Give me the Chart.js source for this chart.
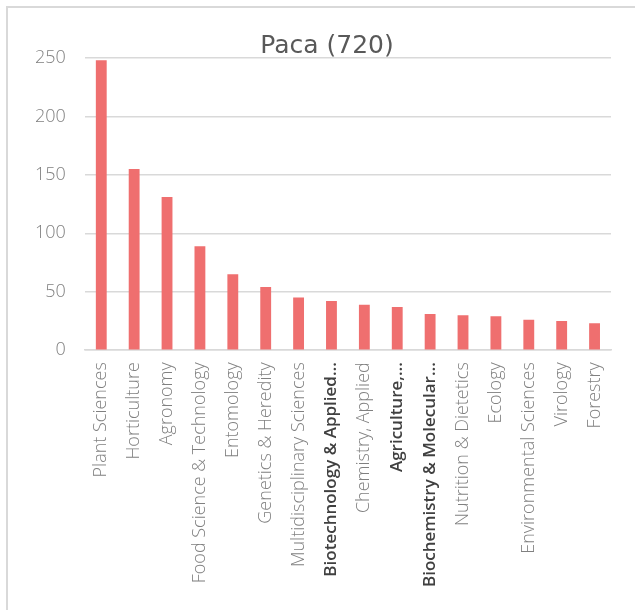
<!DOCTYPE html>
<html>
<head>
<meta charset="utf-8">
<script src="https://cdn.jsdelivr.net/npm/chart.js@4/dist/chart.umd.min.js"></script>
<style>
    html, body { margin: 0; padding: 0; background: #ffffff; overflow: hidden; }
    #marco {
        position: absolute; left: 6px; top: 6px;
        width: 660px; height: 640px;
        border: 2px solid #d9d9d9; background: #ffffff;
    }
    #contenedor { position: absolute; left: 0; top: 0; width: 638px; height: 602px; }
</style>
</head>
<body>
<div id="marco">
    <div id="contenedor"><canvas id="grafica"></canvas></div>
</div>
<script>
// Datos de la gráfica: categorías y cantidad de registros por categoría.
const titulo = 'Paca (720)';
const categorias = ['Plant Sciences', 'Horticulture', 'Agronomy', 'Food Science & Technology', 'Entomology',
    'Genetics & Heredity', 'Multidisciplinary Sciences', 'Biotechnology & Applied…', 'Chemistry, Applied',
    'Agriculture,…', 'Biochemistry & Molecular…', 'Nutrition & Dietetics', 'Ecology', 'Environmental Sciences',
    'Virology', 'Forestry'];
const cantidad = [248, 155, 131, 89, 65, 54, 45, 42, 39, 37, 31, 30, 29, 26, 25, 23];
// Etiquetas que aparecen recortadas (se dibujan más oscuras).
const recortadas = [7, 9, 10];

var ctx = document.getElementById('grafica').getContext('2d');
var chart = new Chart(ctx, {
    type: 'bar',
    data: {
        labels: categorias,
        datasets: [{
            label: titulo,
            data: cantidad,
            backgroundColor: '#ef6f6f',
            barPercentage: 0.33,
            categoryPercentage: 1
        }]
    },
    options: {
        responsive: true,
        maintainAspectRatio: false,
        animation: false,
        layout: { padding: { left: 8, right: 8, top: 0, bottom: 11 } },
        plugins: {
            legend: { display: false },
            tooltip: { enabled: false },
            title: {
                display: true,
                text: titulo,
                color: '#595959',
                font: { family: 'DejaVu Sans', size: 25, weight: 'normal', lineHeight: 0.96 },
                padding: { top: 26, bottom: 0 }
            }
        },
        scales: {
            x: {
                grid: { display: false, drawTicks: false },
                border: { display: true, color: '#d9d9d9', width: 1.5 },
                ticks: {
                    minRotation: 90,
                    maxRotation: 90,
                    autoSkip: false,
                    padding: 12,
                    color: function (c) { return recortadas.includes(c.index) ? '#404040' : '#808080'; },
                    font: function (c) {
                        return recortadas.includes(c.index)
                            ? { family: 'Open Sans', size: 17, weight: '600' }
                            : { family: 'Open Sans', size: 18, weight: '300' };
                    }
                }
            },
            y: {
                min: 0,
                max: 250,
                grid: { color: '#d9d9d9', lineWidth: 1.5, drawTicks: false },
                border: { display: false },
                ticks: {
                    stepSize: 50,
                    padding: 19,
                    color: '#808080',
                    font: { family: 'Open Sans', size: 18, weight: '300' }
                }
            },
            // Eje vacío a la derecha: solo reserva espacio para que el título quede centrado.
            derecha: {
                type: 'linear',
                position: 'right',
                afterFit: function (scale) { scale.width = 27; },
                grid: { display: false, drawTicks: false },
                border: { display: false },
                ticks: { display: false }
            }
        }
    }
});
</script>
</body>
</html>
